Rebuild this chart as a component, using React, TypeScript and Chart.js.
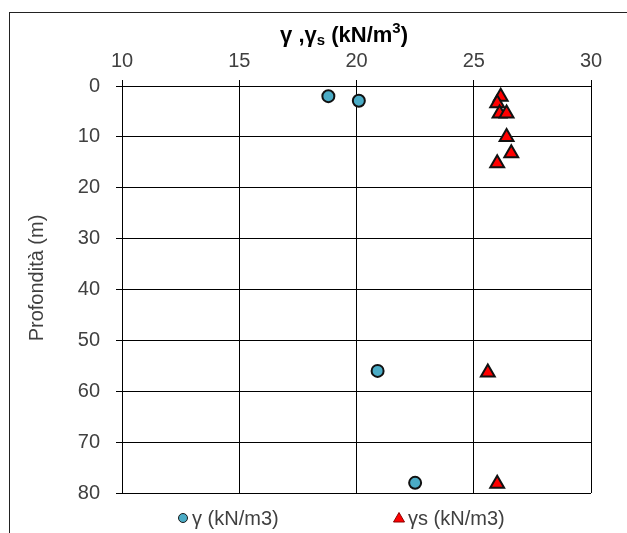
import React, { useEffect, useRef } from "react";
import { Chart, registerables } from "chart.js";

Chart.register(...registerables);

const FONT = '"Liberation Sans", Arial, Helvetica, sans-serif';

// Data
const gammaValues = [18.8, 20.1, 20.9, 22.5];
const gammaDepths = [2.0, 2.9, 56.0, 78.0];
const gammaSValues = [26.15, 26.0, 26.1, 26.4, 26.4, 26.6, 26.0, 25.6, 26.0];
const gammaSDepths = [2.1, 3.4, 5.4, 5.4, 10.0, 13.2, 15.2, 56.3, 78.2];
const seriesLabels = ["γ (kN/m3)", "γs (kN/m3)"];
const xMin = 10;
const xMax = 30;
const xStep = 5;
const yMin = 0;
const yMax = 80;
const yStep = 10;
const yAxisTitle = "Profondità (m)";

const toPoints = (xs: number[], ys: number[]) => xs.map((x, i) => ({ x, y: ys[i] }));

const overlayPlugin = {
  id: "overlay",
  afterDraw(chart: any) {
    const ctx = chart.ctx as CanvasRenderingContext2D;
    ctx.save();
    ctx.fillStyle = "#000";

    // Top axis title: γ ,γs (kN/m³) with sub/superscript
    const big = `bold 22px ${FONT}`;
    const small = `bold 15px ${FONT}`;
    const parts: [string, string, number][] = [
      ["γ ,γ", big, 0],
      ["s", small, 3],
      [" (kN/m", big, 0],
      ["3", small, -9],
      [")", big, 0],
    ];
    let total = 0;
    for (const [t, f] of parts) {
      ctx.font = f;
      total += ctx.measureText(t).width;
    }
    let x = 344 - total / 2;
    const baseY = 42;
    ctx.textBaseline = "alphabetic";
    ctx.textAlign = "left";
    for (const [t, f, dy] of parts) {
      ctx.font = f;
      ctx.fillText(t, x, baseY + dy);
      x += ctx.measureText(t).width;
    }

    // Left axis title
    ctx.save();
    ctx.translate(37, 278);
    ctx.rotate(-Math.PI / 2);
    ctx.font = `20px ${FONT}`;
    ctx.fillStyle = "#404040";
    ctx.textAlign = "center";
    ctx.textBaseline = "middle";
    ctx.fillText(yAxisTitle, 0, 0);
    ctx.restore();

    // Legend
    const legendY = 518;
    const legendX = [183, 399];
    chart.data.datasets.forEach((ds: any, i: number) => {
      const cx = legendX[i];
      ctx.save();
      ctx.fillStyle = ds.backgroundColor;
      ctx.strokeStyle = "#1a1a1a";
      ctx.lineWidth = 1;
      ctx.beginPath();
      if (ds.pointStyle === "triangle") {
        ctx.fillStyle = "#FF0000";
        ctx.strokeStyle = "#8b0000";
        ctx.moveTo(cx, legendY - 5.5);
        ctx.lineTo(cx + 5.5, legendY + 4);
        ctx.lineTo(cx - 5.5, legendY + 4);
        ctx.closePath();
      } else {
        ctx.arc(cx, legendY, 4.5, 0, Math.PI * 2);
      }
      ctx.fill();
      ctx.stroke();
      ctx.restore();
      ctx.font = `20px ${FONT}`;
      ctx.fillStyle = "#404040";
      ctx.textAlign = "left";
      ctx.textBaseline = "middle";
      ctx.fillText(ds.label, cx + 9, legendY + 1);
    });
    ctx.restore();
  },
};

export default function App() {
  const canvasRef = useRef<HTMLCanvasElement | null>(null);

  useEffect(() => {
    const canvas = canvasRef.current;
    if (!canvas) return;
    const chart = new Chart(canvas, {
      type: "scatter",
      data: {
        datasets: [
          {
            label: seriesLabels[0],
            data: toPoints(gammaValues, gammaDepths),
            pointStyle: "circle",
            pointRadius: 6,
            borderWidth: 2,
            backgroundColor: "#4BACC6",
            borderColor: "#111",
          },
          {
            label: seriesLabels[1],
            data: toPoints(gammaSValues, gammaSDepths),
            pointStyle: "triangle",
            pointRadius: 8,
            borderWidth: 2,
            backgroundColor: "#FF0000",
            borderColor: "#111",
          },
        ],
      },
      options: {
        animation: false,
        responsive: false,
        maintainAspectRatio: false,
        devicePixelRatio: 1,
        layout: { padding: { left: 0, top: 0, right: 36, bottom: 40 } },
        plugins: {
          legend: { display: false },
          tooltip: { enabled: false },
          title: { display: false },
        },
        scales: {
          x: {
            type: "linear",
            position: "top",
            min: xMin,
            max: xMax,
            ticks: {
              stepSize: xStep,
              font: { family: FONT, size: 20 },
              color: "#404040",
              padding: 7,
            },
            grid: { color: "#000", lineWidth: 1, tickLength: 6, tickColor: "#000" },
            border: { display: true, color: "#000", width: 1 },
            afterFit: (scale: any) => {
              scale.height = 86;
            },
          },
          y: {
            type: "linear",
            reverse: true,
            min: yMin,
            max: yMax,
            ticks: {
              stepSize: yStep,
              font: { family: FONT, size: 20 },
              color: "#404040",
              padding: 16,
            },
            grid: { color: "#000", lineWidth: 1, tickLength: 6, tickColor: "#000" },
            border: { display: true, color: "#000", width: 1 },
            afterFit: (scale: any) => {
              scale.width = 122;
            },
          },
        },
      },
      plugins: [overlayPlugin],
    });
    return () => chart.destroy();
  }, []);

  return (
    <div style={{ position: "fixed", left: 0, top: 0, width: 627, height: 533, background: "#fff" }}>
      <div
        style={{
          position: "absolute",
          left: 9,
          top: 12,
          width: 640,
          height: 560,
          borderLeft: "1px solid #222",
          borderTop: "1px solid #222",
        }}
      />
      <canvas
        ref={canvasRef}
        width={627}
        height={533}
        style={{ position: "absolute", left: 0, top: 0, width: 627, height: 533 }}
      />
    </div>
  );
}
